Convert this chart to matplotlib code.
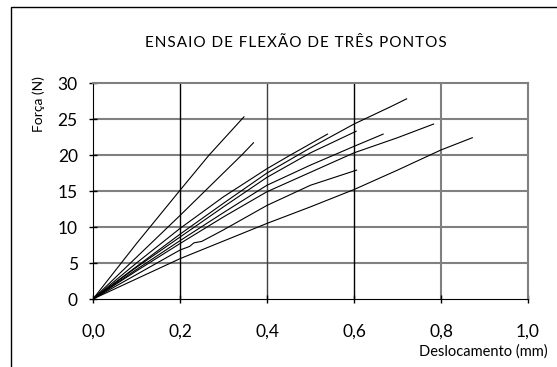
import matplotlib
matplotlib.use('Agg')
import matplotlib.pyplot as plt
from matplotlib.patches import Rectangle

plt.rcParams['font.family'] = ['Lato', 'DejaVu Sans']

# curvas forca x deslocamento
c1_x = [0, 0.1, 0.2, 0.267, 0.347]
c1_y = [0, 7.7, 15.1, 20.0, 25.3]
c2_x = [0, 0.2, 0.342, 0.369]
c2_y = [0, 11.6, 20.0, 21.7]
c3_x = [0, 0.1, 0.2, 0.3, 0.4, 0.454, 0.539]
c3_y = [0, 5.0, 9.8, 14.2, 18.1, 20.0, 22.9]
c4_x = [0, 0.1, 0.2, 0.3, 0.4, 0.5, 0.6, 0.684, 0.721]
c4_y = [0, 4.5, 9.0, 13.3, 17.5, 21.0, 24.3, 26.7, 27.8]
c5_x = [0, 0.1, 0.2, 0.3, 0.4, 0.5, 0.605]
c5_y = [0, 4.4, 8.6, 12.8, 16.9, 20.3, 23.3]
c6_x = [0, 0.1, 0.2, 0.3, 0.4, 0.5, 0.6, 0.667]
c6_y = [0, 4.1, 8.1, 12.0, 15.8, 18.6, 21.2, 22.9]
c7_x = [0, 0.1, 0.2, 0.3, 0.4, 0.5, 0.6, 0.7, 0.783]
c7_y = [0, 3.9, 7.7, 11.4, 14.9, 17.6, 20.3, 22.4, 24.3]
c8_x = [0, 0.1, 0.2, 0.222, 0.232, 0.25, 0.3, 0.4, 0.5, 0.606]
c8_y = [0, 3.4, 6.8, 7.3, 7.8, 8.0, 9.6, 13.0, 15.8, 17.9]
c9_x = [0, 0.2, 0.4, 0.5, 0.6, 0.7, 0.8, 0.872]
c9_y = [0, 5.6, 10.5, 12.8, 15.2, 17.9, 20.7, 22.4]

curvas = [(c1_x, c1_y), (c2_x, c2_y), (c3_x, c3_y), (c4_x, c4_y), (c5_x, c5_y),
          (c6_x, c6_y), (c7_x, c7_y), (c8_x, c8_y), (c9_x, c9_y)]

xticks = [0, 0.2, 0.4, 0.6, 0.8, 1.0]
xtick_labels = ['0,0', '0,2', '0,4', '0,6', '0,8', '1,0']
yticks = [0, 5, 10, 15, 20, 25, 30]

titulo = 'ENSAIO DE FLEXÃO DE TRÊS PONTOS'

fig = plt.figure(figsize=(5.57, 3.67), dpi=100)
ax = fig.add_axes([93/557, 68/367, 435/557, 216/367])

# moldura do grafico
fig.patches.append(Rectangle((11/557, -0.1), 1.2, 1 - 7/367 + 0.1, transform=fig.transFigure,
                             fill=False, edgecolor='black', linewidth=1))

for y in yticks[1:-1]:
    ax.axhline(y, color='#808080', linewidth=1.5, zorder=1)
vcores = ['black', 'black', '#404040', 'black', '#808080', '#808080']
for x, c in zip(xticks[1:-1], vcores[1:-1]):
    ax.axvline(x, color=c, linewidth=1.0 if c != '#808080' else 1.5, zorder=1)

for cx, cy in curvas:
    ax.plot(cx, cy, color='black', linewidth=0.8, zorder=3)

ax.set_xlim(0, 1.0)
ax.set_ylim(0, 30)
ax.set_xticks(xticks)
ax.set_xticklabels(xtick_labels)
ax.set_yticks(yticks)
ax.tick_params(direction='inout', length=6, width=1, labelsize=12.5)
ax.tick_params(axis='x', pad=15)
ax.tick_params(axis='y', pad=8)

ax.spines['left'].set_color('black')
ax.spines['bottom'].set_color('black')
ax.spines['top'].set_color('#808080')
ax.spines['right'].set_color('#808080')
ax.spines['top'].set_linewidth(1.5)
ax.spines['right'].set_linewidth(1.5)

# titulo com espacamento entre letras, como no original
fig.text(296/557, 1 - 43/367, '\u200a'.join(titulo), ha='center', va='center', fontsize=11)
fig.text(39/557, 1 - 104/367, 'Força (N)', rotation=90, ha='center', va='center', fontsize=10)
fig.text(548/557, 1 - 352/367, 'Deslocamento (mm)', ha='right', va='center', fontsize=10.5)

plt.savefig('out.png', dpi=100)
